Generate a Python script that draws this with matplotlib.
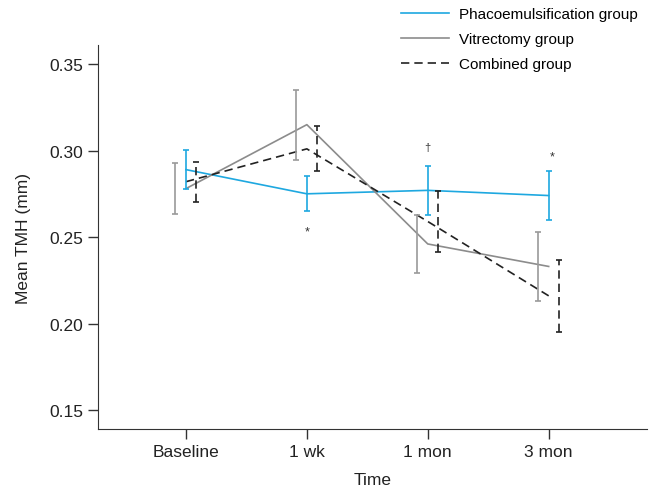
import matplotlib
matplotlib.use("Agg")
import matplotlib.pyplot as plt
import numpy as np

plt.rcParams['font.family'] = ['Liberation Sans', 'DejaVu Sans']

categories = ["Baseline", "1 wk", "1 mon", "3 mon"]
phaco_mean = [0.289, 0.275, 0.277, 0.274]
phaco_err = [0.0115, 0.0101, 0.014, 0.0143]
vit_mean = [0.278, 0.315, 0.246, 0.233]
vit_err = [0.0148, 0.0203, 0.0169, 0.020]
comb_mean = [0.282, 0.301, 0.259, 0.216]
comb_err = [0.0116, 0.013, 0.0178, 0.0208]
yticks = [0.15, 0.20, 0.25, 0.30, 0.35]

blue = '#1ea8e0'
gray = '#8c8c8c'
gray_eb = '#9a9a9a'
black = '#222222'

fig = plt.figure(figsize=(6.5, 4.89), dpi=100)
ax = fig.add_axes([0.1508, 0.1207, 0.844, 0.785])

x = np.arange(len(categories))
off = 0.087

l1, = ax.plot(x, phaco_mean, color=blue, lw=1.2, label='Phacoemulsification group')
l2, = ax.plot(x, vit_mean, color=gray, lw=1.2, label='Vitrectomy group')
l3, = ax.plot(x, comb_mean, color=black, lw=1.2, dashes=(5, 3), label='Combined group')

ax.errorbar(x, phaco_mean, yerr=phaco_err, fmt='none', ecolor=blue, elinewidth=1.2, capsize=2.5, capthick=1.2)
ax.errorbar(x - off, vit_mean, yerr=vit_err, fmt='none', ecolor=gray_eb, elinewidth=1.2, capsize=2.5, capthick=1.2)
eb = ax.errorbar(x + off, comb_mean, yerr=comb_err, fmt='none', ecolor=black, elinewidth=1.2, capsize=2.5, capthick=1.2)
eb[2][0].set_linestyle((0, (5, 3)))

ax.text(1, 0.2535, '*', ha='center', va='center', fontsize=9, color='#333333')
ax.text(2, 0.302, '\u2020', ha='center', va='center', fontsize=8, color='#333333')
ax.text(3.03, 0.2968, '*', ha='center', va='center', fontsize=9, color='#333333')

ax.set_xlim(-0.727, 3.81)
ax.set_ylim(0.139, 0.361)
ax.set_xticks(x)
ax.set_xticklabels(categories)
ax.set_yticks(yticks)
ax.set_yticklabels([f"{v:.2f}" for v in yticks])
ax.tick_params(direction='out', length=7, width=1, labelsize=12.5, color='#333333', labelcolor='#222222')
for s in ['top', 'right']:
    ax.spines[s].set_visible(False)
for s in ['left', 'bottom']:
    ax.spines[s].set_color('#333333')
ax.set_xlabel('Time', fontsize=12.5, color='#222222', labelpad=10)
ax.set_ylabel('Mean TMH (mm)', fontsize=12.5, color='#222222', labelpad=13)

fig.legend(handles=[l1, l2, l3], loc='upper left', bbox_to_anchor=(0.608, 0.996),
           frameon=False, fontsize=11, handlelength=3.15, handletextpad=0.6,
           labelspacing=0.72, borderaxespad=0)

fig.savefig('out.png', dpi=100)
